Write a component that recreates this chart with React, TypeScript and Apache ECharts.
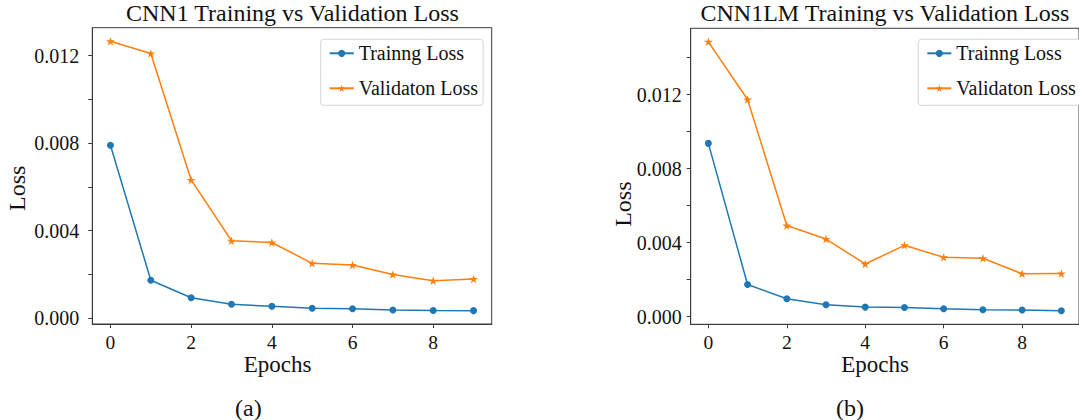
import React, { useEffect, useRef } from "react";
import * as echarts from "echarts";

const epochs = [0, 1, 2, 3, 4, 5, 6, 7, 8, 9];
const cnn1Train = [0.0079, 0.00174, 0.00094, 0.00064, 0.00055, 0.00046, 0.00044, 0.00038, 0.00036, 0.00035];
const cnn1Val = [0.01265, 0.01209, 0.00632, 0.00354, 0.00346, 0.00251, 0.00243, 0.002, 0.00171, 0.0018];
const cnn1lmTrain = [0.00937, 0.00174, 0.00097, 0.00065, 0.00052, 0.0005, 0.00043, 0.00038, 0.00036, 0.00032];
const cnn1lmVal = [0.01486, 0.01174, 0.00493, 0.0042, 0.00285, 0.00386, 0.00321, 0.00316, 0.00232, 0.00233];

const xTickValues = [0, 2, 4, 6, 8];
const yLabelValues = [0, 0.004, 0.008, 0.012];
const yTicksLeft = [0, 0.002, 0.004, 0.006, 0.008, 0.01, 0.012];
const yTicksRight = [0, 0.002, 0.004, 0.006, 0.008, 0.01, 0.012, 0.014];

const TRAIN_NAME = "Trainng Loss";
const VAL_NAME = "Validaton Loss";

const BLUE = "#1f77b4";
const ORANGE = "#ff7f0e";
const AXIS = "#3a3a3a";
const FONT = "Liberation Serif";

const starPath = (() => {
  const pts: string[] = [];
  for (let k = 0; k < 10; k++) {
    const r = k % 2 === 0 ? 1 : 0.382;
    const a = Math.PI / 2 + (k * Math.PI) / 5;
    pts.push((r * Math.cos(a)).toFixed(3) + "," + (-r * Math.sin(a)).toFixed(3));
  }
  return "path://M" + pts.join("L") + "Z";
})();

function pairs(vals: number[]) {
  return epochs.map((e, i) => [e, vals[i]]);
}

function xAxisFor(gridIndex: number) {
  return {
    type: "value",
    gridIndex,
    min: -0.45,
    max: 9.45,
    splitLine: { show: false },
    axisLine: { show: true, onZero: false, lineStyle: { color: AXIS, width: 1 } },
    axisTick: { show: true, length: 4, lineStyle: { color: AXIS }, customValues: xTickValues },
    axisLabel: {
      customValues: xTickValues,
      margin: 10.5,
      fontFamily: FONT,
      fontSize: 19.5,
      lineHeight: 15,
      color: "#111",
    },
  };
}

function yAxisFor(gridIndex: number, min: number, max: number, ticks: number[], margin: number) {
  return {
    type: "value",
    gridIndex,
    min,
    max,
    splitLine: { show: false },
    axisLine: { show: true, onZero: false, lineStyle: { color: AXIS, width: 1 } },
    axisTick: { show: true, length: 4, lineStyle: { color: AXIS }, customValues: ticks },
    axisLabel: {
      customValues: yLabelValues,
      margin,
      fontFamily: FONT,
      fontSize: 20,
      color: "#111",
      formatter: (v: number) => v.toFixed(3),
    },
  };
}

function seriesFor(idx: number, train: number[], val: number[]) {
  return [
    {
      type: "line",
      name: TRAIN_NAME,
      xAxisIndex: idx,
      yAxisIndex: idx,
      data: pairs(train),
      symbol: "circle",
      symbolSize: 7,
      lineStyle: { color: BLUE, width: 1.5 },
      itemStyle: { color: BLUE },
    },
    {
      type: "line",
      name: VAL_NAME,
      xAxisIndex: idx,
      yAxisIndex: idx,
      data: pairs(val),
      symbol: starPath,
      symbolSize: [9, 8.5],
      lineStyle: { color: ORANGE, width: 1.5 },
      itemStyle: { color: ORANGE },
    },
  ];
}

function legendFor(left: number) {
  return {
    left,
    top: 39.3,
    orient: "vertical",
    itemWidth: 24,
    itemHeight: 9,
    itemGap: 15,
    padding: [4, 5, 7, 8],
    backgroundColor: "#fff",
    borderColor: "#d4d4d4",
    borderWidth: 1,
    borderRadius: 3,
    textStyle: { fontFamily: FONT, fontSize: 20, color: "#111" },
    data: [{ name: TRAIN_NAME }, { name: VAL_NAME }],
  };
}

function label(text: string, x: number, y: number, size: number, rotation = 0) {
  return {
    type: "text",
    x,
    y,
    rotation,
    style: {
      text,
      fontFamily: FONT,
      fontSize: size,
      lineHeight: Math.round(size * 0.8),
      fill: "#111",
      align: "center",
      verticalAlign: "middle",
      textAlign: "center",
      textVerticalAlign: "middle",
    },
  };
}

export default function App() {
  const ref = useRef<HTMLDivElement>(null);
  useEffect(() => {
    if (!ref.current) return;
    const chart = echarts.init(ref.current, undefined, { renderer: "svg" });
    chart.setOption({
      animation: false,
      backgroundColor: "#fff",
      grid: [
        { left: 92.3, top: 27.7, width: 399.4, height: 296.3, show: true, borderColor: AXIS, borderWidth: 1, backgroundColor: "transparent" },
        { left: 690.7, top: 28.3, width: 398.3, height: 296, show: true, borderColor: AXIS, borderWidth: 1, backgroundColor: "transparent" },
      ],
      xAxis: [xAxisFor(0), xAxisFor(1)],
      yAxis: [
        yAxisFor(0, -0.00026, 0.01327, yTicksLeft, 13),
        yAxisFor(1, -0.00041, 0.01559, yTicksRight, 9),
      ],
      legend: [legendFor(320.7), legendFor(918.3)],
      series: [...seriesFor(0, cnn1Train, cnn1Val), ...seriesFor(1, cnn1lmTrain, cnn1lmVal)],
      graphic: [
        label("CNN1 Training vs Validation Loss", 292.5, 13.3, 24),
        label("CNN1LM Training vs Validation Loss", 885, 13.3, 24),
        label("Epochs", 277.5, 364.5, 23),
        label("Epochs", 875, 364, 23),
        label("Loss", 16.7, 188.3, 24, Math.PI / 2),
        label("Loss", 623.3, 204.2, 24, Math.PI / 2),
        label("(a)", 248.3, 407.5, 24),
        label("(b)", 850, 407.5, 24),
      ],
    });
    return () => chart.dispose();
  }, []);
  return (
    <div
      ref={ref}
      style={{ position: "absolute", left: 0, top: 0, width: 1079, height: 420, background: "#fff" }}
    />
  );
}
